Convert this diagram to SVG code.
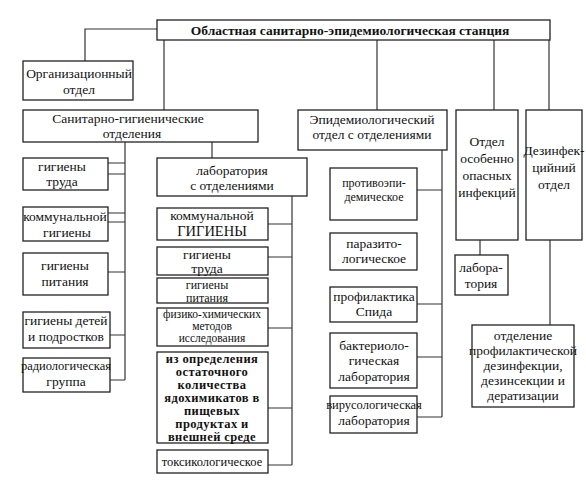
<svg xmlns="http://www.w3.org/2000/svg" width="586" height="480" viewBox="0 0 586 480" font-family="'Liberation Serif', 'DejaVu Serif', serif">
<style>
rect{fill:#fff;stroke:#222;stroke-width:1.3}
.c{fill:none;stroke:#333;stroke-width:1.2}
text{font-family:'Liberation Serif','DejaVu Serif',serif;font-size:13.5px;fill:#111;text-anchor:middle}
.b{font-weight:bold}
.m{font-weight:bold;font-size:12.5px;letter-spacing:0.4px}
.s{font-size:12.5px}
.t{font-size:11.5px}
.u{font-size:12px}
</style>
<rect x="0" y="0" width="586" height="480" style="fill:#fff;stroke:none"/>
<g id="connectors" class="c">
<path d="M157 29H85V61"/>
<path d="M164 40V110"/>
<path d="M377 40V110"/>
<path d="M494 40V110"/>
<path d="M549 40V110"/>
<path d="M125 142V380"/>
<path d="M108 163H125M108 174H125M108 213H125M108 222H125M108 272H125M110 335H125M110 380H125"/>
<path d="M212 142V158"/>
<path d="M292 196V465"/>
<path d="M268 224H292M268 257H292M268 328H292M268 408H292M268 465H292"/>
<path d="M442 150V417"/>
<path d="M417 190H442M417 304H442M417 357H442M417 417H442"/>
<path d="M480 240V255"/>
<path d="M550 240V325"/>
</g>
<g id="station"><rect x="157" y="20" width="393" height="20"/><text class="b" x="350" y="34.5">Областная санитарно-эпидемиологическая станция</text></g>
<g id="org"><rect x="23" y="61" width="110" height="39"/><text x="79" y="78">Организационный</text><text x="79" y="94">отдел</text></g>
<g id="sanit"><rect x="23" y="110" width="235" height="32"/><text x="128" y="123">Санитарно-гигиенические</text><text x="132" y="138">отделения</text></g>
<g id="s1"><rect x="23" y="158" width="85" height="32"/><text x="62" y="171">гигиены</text><text x="62" y="186">труда</text></g>
<g id="s2"><rect x="23" y="207" width="85" height="34"/><text x="65" y="221">коммунальной</text><text x="67" y="237">гигиены</text></g>
<g id="s3"><rect x="23" y="253" width="85" height="42"/><text x="65" y="270">гигиены</text><text x="65" y="286">питания</text></g>
<g id="s4"><rect x="23" y="312" width="87" height="36"/><text x="66" y="325">гигиены детей</text><text x="66" y="341">и подростков</text></g>
<g id="s5"><rect x="23" y="358" width="87" height="34"/><text x="66" y="370" class="s">радиологическая</text><text x="66" y="386">группа</text></g>
<g id="lab"><rect x="157" y="158" width="150" height="38"/><text x="232" y="175">лаборатория</text><text x="232" y="190">с отделениями</text></g>
<g id="l1"><rect x="157" y="208" width="111" height="32"/><text x="212" y="220">коммунальной</text><text x="212" y="236" style="font-size:14.5px">ГИГИЕНЫ</text></g>
<g id="l2"><rect x="157" y="247" width="111" height="28"/><text x="207" y="259">гигиены</text><text x="207" y="273">труда</text></g>
<g id="l3"><rect x="157" y="278" width="111" height="25"/><text x="207" y="288.5" class="u">гигиены</text><text x="207" y="301.5" class="u">питания</text></g>
<g id="l4"><rect x="157" y="308" width="111" height="38"/><text x="212" y="318" class="t">физико-химических</text><text x="212" y="330" class="t">методов</text><text x="212" y="342" class="t">исследования</text></g>
<g id="l5"><rect x="157" y="352" width="111" height="91"/>
<text class="m" x="212" y="363">из определения</text><text class="m" x="212" y="376">остаточного</text><text class="m" x="212" y="389">количества</text><text class="m" x="212" y="402">ядохимикатов в</text><text class="m" x="212" y="415">пищевых</text><text class="m" x="212" y="428">продуктах и</text><text class="m" x="212" y="441">внешней среде</text></g>
<g id="l6"><rect x="157" y="450" width="111" height="23"/><text x="212" y="466" class="s">токсикологическое</text></g>
<g id="epid"><rect x="298" y="110" width="149" height="40"/><text x="372" y="124">Эпидемиологический</text><text x="372" y="139">отдел с отделениями</text></g>
<g id="e1"><rect x="330" y="168" width="87" height="52"/><text x="374" y="187" class="u">противоэпи-</text><text x="374" y="201" class="u">демическое</text></g>
<g id="e2"><rect x="330" y="233" width="87" height="37"/><text x="374" y="248">паразито-</text><text x="374" y="263">логическое</text></g>
<g id="e3"><rect x="330" y="287" width="87" height="35"/><text x="374" y="301">профилактика</text><text x="374" y="316">Спида</text></g>
<g id="e4"><rect x="330" y="333" width="87" height="55"/><text x="374" y="350">бактериоло-</text><text x="374" y="365">гическая</text><text x="374" y="381">лаборатория</text></g>
<g id="e5"><rect x="330" y="396" width="87" height="37"/><text x="374" y="409" class="s">вирусологическая</text><text x="374" y="425">лаборатория</text></g>
<g id="ooi"><rect x="456" y="110" width="62" height="130"/><text x="487" y="146">Отдел</text><text x="487" y="163">особенно</text><text x="487" y="180">опасных</text><text x="487" y="197">инфекций</text></g>
<g id="ooilab"><rect x="455" y="255" width="53" height="40"/><text x="481" y="272">лабора-</text><text x="481" y="288">тория</text></g>
<g id="dez"><rect x="526" y="110" width="56" height="130"/><text x="554" y="155">Дезинфек-</text><text x="554" y="172">цийний</text><text x="554" y="189">отдел</text></g>
<g id="dez2"><rect x="472" y="325" width="102" height="82"/><text x="523" y="340">отделение</text><text x="523" y="355">профилактической</text><text x="523" y="370">дезинфекции,</text><text x="523" y="385">дезинсекции и</text><text x="523" y="400">дератизации</text></g>
</svg>
